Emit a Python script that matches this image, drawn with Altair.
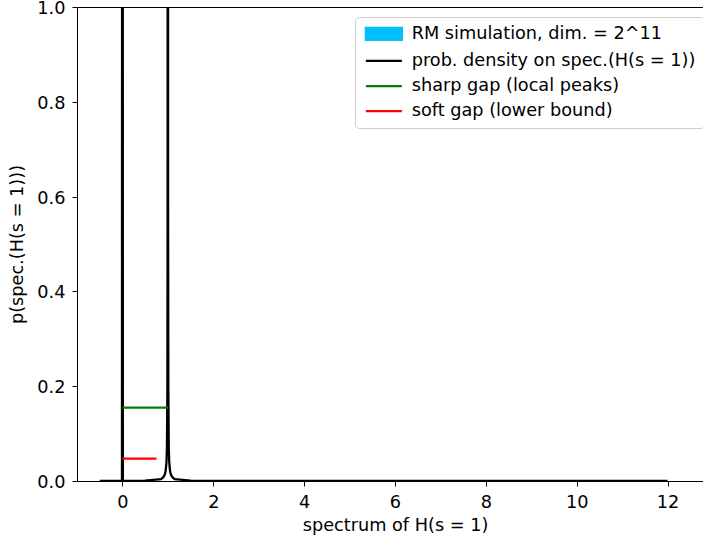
import altair as alt
import pandas as pd

series_labels = [
    "RM simulation, dim. = 2^11",
    "prob. density on spec.(H(s = 1))",
    "sharp gap (local peaks)",
    "soft gap (lower bound)",
]
series_colors = ["#00bfff", "#000000", "#008000", "#ff0000"]

density_x = [-0.5, -0.01, 0.0, 0.01, 0.5, 0.85, 0.9, 0.93, 0.95, 0.97, 0.98, 0.99, 0.995,
             1.0, 1.005, 1.01, 1.02, 1.03, 1.05, 1.07, 1.1, 1.15, 1.5, 3.0, 12.0]
density_y = [0.0, 0.0, 5.0, 0.0, 0.001, 0.004, 0.008, 0.013, 0.02, 0.04, 0.07, 0.2, 0.6,
             5.0, 0.6, 0.2, 0.07, 0.04, 0.02, 0.013, 0.008, 0.004, 0.001, 0.0, 0.0]

hist_start = [0.97, 0.98, 0.99, 1.00, 1.01, 1.02]
hist_end = [0.98, 0.99, 1.00, 1.01, 1.02, 1.03]
hist_height = [0.03, 0.08, 3.0, 3.0, 0.08, 0.03]

gap_names = [series_labels[2], series_labels[3]]
gap_start = [0.0, 0.0]
gap_end = [1.0, 0.75]
gap_level = [0.155, 0.047]

x_ticks = [0, 2, 4, 6, 8, 10, 12]
y_ticks = [0.0, 0.2, 0.4, 0.6, 0.8, 1.0]
x_domain = [-1.0, 12.78]
y_domain = [0.0, 1.0]

density_df = pd.DataFrame({"x": density_x, "y": density_y, "series": series_labels[1]})
hist_df = pd.DataFrame({"x": hist_start, "x2": hist_end, "y": hist_height, "series": series_labels[0]})
gap_df = pd.DataFrame({"x": gap_start, "x2": gap_end, "y": gap_level, "series": gap_names})

xscale = alt.Scale(domain=x_domain, nice=False, zero=False, padding=0)
yscale = alt.Scale(domain=y_domain, nice=False, padding=0)

FS = 17.7
hist_label = series_labels[0]
shape_expr = f"datum.value === '{hist_label}' ? 'M-3,-1H3V1H-3Z' : 'M-3,0H3'"
fill_expr = f"datum.value === '{hist_label}' ? '{series_colors[0]}' : 'transparent'"
stroke_expr = "'transparent'"
for lab, col in zip(series_labels[:0:-1], series_colors[:0:-1]):
    stroke_expr = f"datum.value === '{lab}' ? '{col}' : ({stroke_expr})"

legend = alt.Legend(
    orient="none", legendX=278, legendY=10, title=None,
    labelFont="DejaVu Sans", labelFontSize=FS, labelColor="black", labelLimit=500,
    symbolSize=144, symbolStrokeWidth=2.3, symbolOffset=12, labelOffset=19,
    rowPadding=6.1, padding=8, strokeColor="#cccccc", fillColor="white", cornerRadius=4,
    symbolType={"expr": shape_expr},
    symbolFillColor={"expr": fill_expr},
    symbolStrokeColor={"expr": stroke_expr},
)
color = alt.Color("series:N", scale=alt.Scale(domain=series_labels, range=series_colors), legend=legend)

hist = alt.Chart(hist_df).mark_bar(clip=True).encode(
    x=alt.X("x:Q", scale=xscale, axis=alt.Axis(orient="top", labels=False, ticks=False, domain=True, title=None)),
    x2="x2:Q",
    y=alt.Y("y:Q", scale=yscale, axis=alt.Axis(values=y_ticks, format=".1f", title="p(spec.(H(s = 1)))",
                                                labelOffset=1.5)),
    color=color,
)

density = alt.Chart(density_df).mark_line(clip=True, strokeWidth=2.3).encode(
    x=alt.X("x:Q", scale=xscale, axis=alt.Axis(values=x_ticks, format="d", title="spectrum of H(s = 1)",
                                                titleX=318, labelPadding=7, titlePadding=6)),
    y=alt.Y("y:Q", scale=yscale),
    color=color,
)

gaps = alt.Chart(gap_df).mark_rule(strokeWidth=2.3).encode(
    x=alt.X("x:Q", scale=xscale, axis=None),
    x2="x2:Q",
    y=alt.Y("y:Q", scale=yscale),
    color=color,
)

chart = alt.layer(hist, density, gaps).resolve_axis(x="independent").properties(
    width=626, height=474,
    autosize=alt.AutoSizeParams(type="none"),
    padding={"left": 77, "top": 7, "right": 0, "bottom": 64},
).configure_view(stroke=None).configure_axis(
    labelFont="DejaVu Sans", titleFont="DejaVu Sans", labelFontSize=FS, titleFontSize=FS,
    titleFontWeight="normal", labelColor="black", titleColor="black",
    tickColor="black", domainColor="black", tickSize=5, tickWidth=1, domainWidth=1,
    grid=False, labelPadding=4, titlePadding=8,
).configure_axisY(labelPadding=7, titlePadding=10)

chart.save("out.html", embed_options={"renderer": "svg", "actions": False})
